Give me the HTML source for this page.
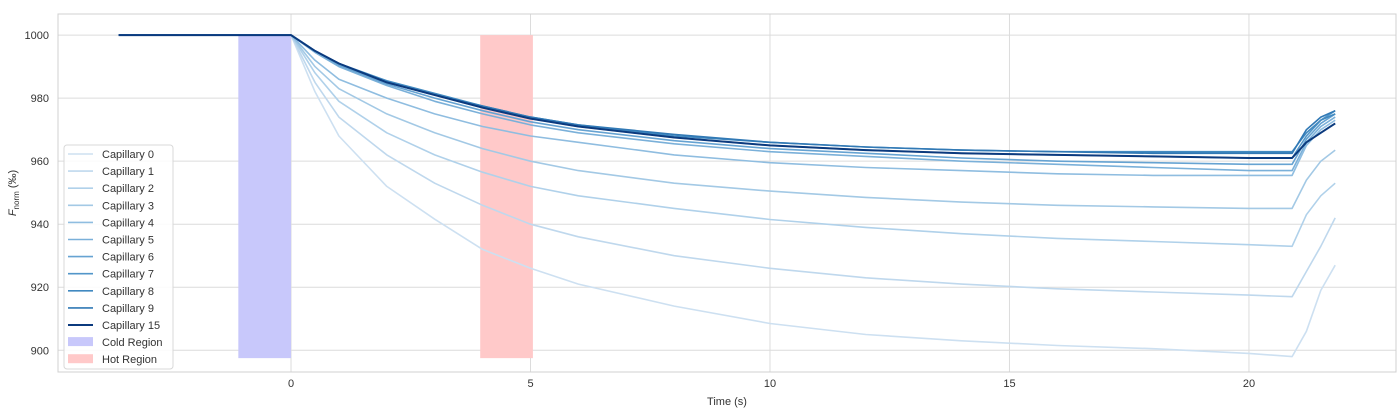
<!DOCTYPE html>
<html><head><meta charset="utf-8"><style>
body{margin:0;background:#fff;font-family:"Liberation Sans",sans-serif}
svg text{font-family:"Liberation Sans",sans-serif;fill:#333}
</style></head><body>
<svg id="chart" width="1400" height="412"></svg>
<script>
const times=[-3.6,-2,-0.5,0,0.5,1,2,3,4,5,6,8,10,12,14,16,18,20,20.9,21.2,21.5,21.8];
const names=["Capillary 0","Capillary 1","Capillary 2","Capillary 3","Capillary 4","Capillary 5","Capillary 6","Capillary 7","Capillary 8","Capillary 9","Capillary 15"];
const cap0=[1000,1000,1000,1000,982,968,952,941.6,932,926,921,914,908.5,905,903,901.5,900.5,899,898,906,919,927];
const cap1=[1000,1000,1000,1000,985,974,962,953,946,940,936,930,926,923,921,919.5,918.5,917.5,917,925,933,942];
const cap2=[1000,1000,1000,1000,988,979,969,962,956.5,952,949,945,941.5,939,937,935.5,934.5,933.5,933,943,949,953];
const cap3=[1000,1000,1000,1000,990,983,975,969,964,960,957,953,950.5,948.5,947,946,945.5,945,945,954,960,963.5];
const cap4=[1000,1000,1000,1000,992,986,980,975,971,968,966,962,959.5,958,957,956,955.5,955.5,955.5,965,970,973];
const cap5=[1000,1000,1000,1000,994.5,990,984,979,975,971.5,969,965.5,963,961.5,960,959,958,957,957,966,971,974];
const cap6=[1000,1000,1000,1000,995,990.5,984.5,980,976,972.5,970,966.5,964,962.5,961,960,959.5,959,959,967,972,975];
const cap7=[1000,1000,1000,1000,995,991,985,981,977,973.5,971,967.5,965,963.5,962.5,962,961.5,961,961,968,973,976];
const cap8=[1000,1000,1000,1000,995,991,985.5,981.5,977.5,974,971.5,968,966,964.5,963.5,963,963,963,963,969,973,975];
const cap9=[1000,1000,1000,1000,995,991,985,981,977.5,974,971.5,968.5,966,964.5,963.5,963,962.5,962.5,962.5,970,974,976];
const cap15=[1000,1000,1000,1000,995,991,985,981,977,973.5,971,967.5,965,963.5,962.5,962,961.5,961,961,966,969,972];
const series=[cap0,cap1,cap2,cap3,cap4,cap5,cap6,cap7,cap8,cap9,cap15];
const colors=["#cde0f1","#bfd8ed","#b0d1ea","#a3c9e5","#8fbde0","#7ab0d9","#66a3d2","#5296c9","#4189c0","#3179b5","#0b3a7e"];
const xTicks=[0,5,10,15,20];
const yTicks=[900,920,940,960,980,1000];
const coldRegion=[-1.1,0,897.5,1000];
const hotRegion=[3.95,5.05,897.5,1000];

const L=58,R=1396,T=14,B=372;
const x0=-4.865,x1=23.07,y0=893.1,y1=1006.7;
const X=t=>L+(t-x0)/(x1-x0)*(R-L);
const Y=v=>B-(v-y0)/(y1-y0)*(B-T);
const svg=document.getElementById('chart');
const NS='http://www.w3.org/2000/svg';
function mk(tag,attrs,parent){const e=document.createElementNS(NS,tag);for(const k in attrs)e.setAttribute(k,attrs[k]);(parent||svg).appendChild(e);return e;}

const grid=mk('g',{});


xTicks.forEach(t=>{
  const l=mk('line',{x1:X(t),x2:X(t),y1:T,y2:B,stroke:'#dcdcdc','stroke-width':1},grid);
  
  
  const tx=mk('text',{x:X(t),y:B+15,'text-anchor':'middle','font-size':11});
  tx.textContent=t;
  
  
});
yTicks.forEach(v=>{
  const l=mk('line',{x1:L,x2:R,y1:Y(v),y2:Y(v),stroke:'#dcdcdc','stroke-width':1},grid);
  
  
  const tx=mk('text',{x:L-9,y:Y(v)+4,'text-anchor':'end','font-size':11});
  tx.textContent=v;
  
  
});
const frame=mk('rect',{x:L,y:T,width:R-L,height:B-T,fill:'none',stroke:'#d0d0d0'});



const cold=mk('rect',{x:X(coldRegion[0]),y:Y(coldRegion[3]),width:X(coldRegion[1])-X(coldRegion[0]),height:Y(coldRegion[2])-Y(coldRegion[3]),fill:'#c8c8fb'});


const hot=mk('rect',{x:X(hotRegion[0]),y:Y(hotRegion[3]),width:X(hotRegion[1])-X(hotRegion[0]),height:Y(hotRegion[2])-Y(hotRegion[3]),fill:'#ffc9c9'});



series.forEach((s,i)=>{
  const d=s.map((v,j)=>(j?'L':'M')+X(times[j]).toFixed(1)+','+Y(v).toFixed(1)).join(' ');
  const p=mk('path',{d:d,fill:'none',stroke:colors[i],'stroke-width':i==10?2:1.6,'stroke-linejoin':'round'});
  
  
});

const lg=mk('g',{});


mk('rect',{x:64,y:145,width:109,height:224,rx:3,fill:'#fff','fill-opacity':0.85,stroke:'#d8d8d8'},lg);
names.forEach((n,i)=>{
  const y=154+i*17.1;
  mk('line',{x1:68,x2:93,y1:y,y2:y,stroke:colors[i],'stroke-width':i==10?2:1.6},lg);
  const t=mk('text',{x:102,y:y+4,'font-size':11},lg);
  t.textContent=n;
  
  
});
[['Cold Region','#c8c8fb'],['Hot Region','#ffc9c9']].forEach((r,k)=>{
  const y=154+(11+k)*17.1;
  mk('rect',{x:68,y:y-5,width:25,height:9,fill:r[1]},lg);
  const t=mk('text',{x:102,y:y+4,'font-size':11},lg);
  t.textContent=r[0];
  
  
});

const xl=mk('text',{x:(L+R)/2,y:405,'text-anchor':'middle','font-size':11});
xl.textContent='Time (s)';


const yl=mk('text',{x:0,y:0,'text-anchor':'middle','font-size':11,transform:'translate(16,193) rotate(-90)'});
yl.innerHTML='<tspan font-style="italic">F</tspan><tspan font-size="8" dy="3">norm</tspan><tspan dy="-3"> (‰)</tspan>';


</script>
</body></html>
